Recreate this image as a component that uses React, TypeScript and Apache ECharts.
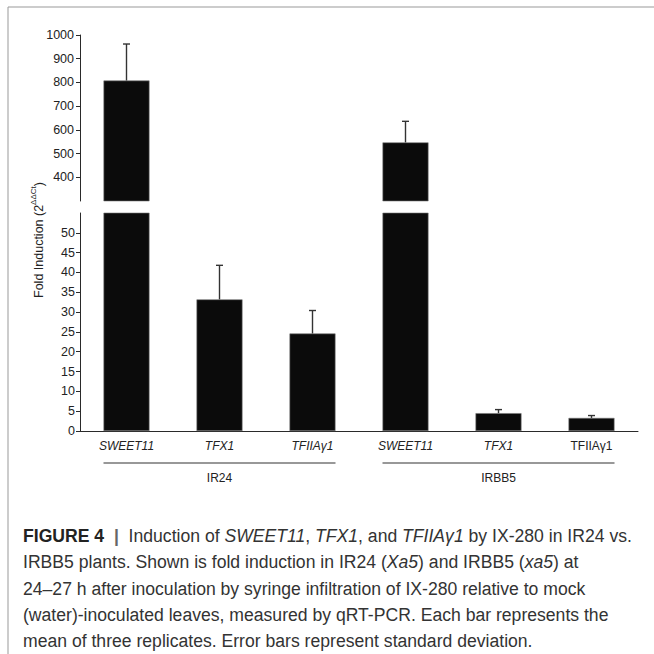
import React, { useEffect, useRef } from "react";
import * as echarts from "echarts";

const categories = ["SWEET11", "TFX1", "TFIIAγ1", "SWEET11", "TFX1", "TFIIAγ1"];
const italicFlags = [true, true, true, true, true, false];
const groupNames = ["IR24", "IRBB5"];
const groupMembers = [[0, 1, 2], [3, 4, 5]];
const means = [808, 33.2, 24.6, 547, 4.5, 3.3];
const sds = [154, 8.6, 5.8, 89, 0.9, 0.6];
const upperRange = [300, 1000];
const lowerRange = [0, 55];
const upperTicks = [400, 500, 600, 700, 800, 900, 1000];
const lowerTicks = [0, 5, 10, 15, 20, 25, 30, 35, 40, 45, 50];

const captionLines = [
  "{b|FIGURE 4  }{p||}{r|  Induction of }{i|SWEET11}{r|, }{i|TFX1}{r|, and }{i|TFIIAγ1}{r| by IX-280 in IR24 vs.}",
  "{r|IRBB5 plants. Shown is fold induction in IR24 (}{i|Xa5}{r|) and IRBB5 (}{i|xa5}{r|) at}",
  "{r|24–27 h after inoculation by syringe infiltration of IX-280 relative to mock}",
  "{r|(water)-inoculated leaves, measured by qRT-PCR. Each bar represents the}",
  "{r|mean of three replicates. Error bars represent standard deviation.}",
];

const FONT = "'Liberation Sans', Arial, Helvetica, sans-serif";
const CAPFONT = "'Liberation Sans', Arial, sans-serif";
const CAPSIZE = 17.6;
const BAR_W = 46;
const AXIS_COLOR = "#2a2a2a";

export default function App() {
  const ref = useRef<HTMLDivElement>(null);
  useEffect(() => {
    if (!ref.current) return;
    const chart = echarts.init(ref.current, null, { renderer: "svg" });

    const upperBars = means.map((v) => (v >= upperRange[0] ? v : "-"));
    const upperErr = means
      .map((v, i) => [i, v, v + sds[i]])
      .filter((d) => d[1] >= upperRange[0]);
    const lowerErr = means
      .map((v, i) => [i, v, v + sds[i]])
      .filter((d) => d[1] < lowerRange[1]);

    const errRender = (params: any, api: any) => {
      const i = api.value(0);
      const lo = api.coord([i, api.value(1)]);
      const hi = api.coord([i, api.value(2)]);
      const cap = 3.5;
      return {
        type: "group",
        children: [
          {
            type: "line",
            shape: { x1: lo[0], y1: lo[1], x2: hi[0], y2: hi[1] },
            style: { stroke: "#333", lineWidth: 1.4 },
          },
          {
            type: "line",
            shape: { x1: hi[0] - cap, y1: hi[1], x2: hi[0] + cap, y2: hi[1] },
            style: { stroke: "#333", lineWidth: 1.4 },
          },
        ],
      };
    };

    const yAxisCommon = {
      type: "value",
      splitLine: { show: false },
      axisLine: { show: true, lineStyle: { color: AXIS_COLOR, width: 1 } },
      axisTick: { show: true, length: 4, lineStyle: { color: AXIS_COLOR } },
      axisLabel: {
        color: "#222",
        fontSize: 12.5,
        fontFamily: FONT,
        margin: 6,
        formatter: (v: number) => String(v),
      },
    };

    const option: any = {
      animation: false,
      backgroundColor: "#fff",
      grid: [
        { left: 80, right: 16, top: 35, height: 166 },
        { left: 80, right: 16, top: 213, height: 218 },
      ],
      xAxis: [
        {
          type: "category",
          gridIndex: 0,
          data: categories,
          show: false,
        },
        {
          type: "category",
          gridIndex: 1,
          data: categories,
          axisLine: { show: true, lineStyle: { color: AXIS_COLOR } },
          axisTick: { show: false },
          axisLabel: {
            margin: 9,
            fontSize: 12,
            fontFamily: FONT,
            color: "#222",
            formatter: (v: string, idx: number) =>
              italicFlags[idx] ? "{i|" + v + "}" : "{n|" + v + "}",
            rich: {
              i: { fontStyle: "italic", fontSize: 12, fontFamily: FONT, color: "#222" },
              n: { fontSize: 12, fontFamily: FONT, color: "#222" },
            },
          },
        },
      ],
      yAxis: [
        {
          ...yAxisCommon,
          gridIndex: 0,
          min: upperRange[0],
          max: upperRange[1],
          interval: 100,
          axisTick: { ...yAxisCommon.axisTick, customValues: upperTicks },
          axisLabel: { ...yAxisCommon.axisLabel, customValues: upperTicks },
        },
        {
          ...yAxisCommon,
          gridIndex: 1,
          min: lowerRange[0],
          max: lowerRange[1],
          interval: 5,
          axisTick: { ...yAxisCommon.axisTick, customValues: lowerTicks },
          axisLabel: { ...yAxisCommon.axisLabel, margin: 5, customValues: lowerTicks },
        },
      ],
      series: [
        {
          type: "bar",
          xAxisIndex: 0,
          yAxisIndex: 0,
          data: upperBars,
          barWidth: BAR_W,
          itemStyle: { color: "#0b0b0b", borderColor: "#777", borderWidth: 0.6 },
        },
        {
          type: "bar",
          xAxisIndex: 1,
          yAxisIndex: 1,
          data: means,
          barWidth: BAR_W,
          clip: true,
          itemStyle: { color: "#0b0b0b", borderColor: "#777", borderWidth: 0.6 },
        },
        {
          type: "custom",
          xAxisIndex: 0,
          yAxisIndex: 0,
          data: upperErr,
          renderItem: errRender,
          z: 3,
        },
        {
          type: "custom",
          xAxisIndex: 1,
          yAxisIndex: 1,
          data: lowerErr,
          renderItem: errRender,
          z: 3,
        },
      ],
    };
    chart.setOption(option);

    const graphics: any[] = [
      {
        type: "line",
        shape: { x1: 8, y1: 7, x2: 654, y2: 7 },
        style: { stroke: "#999", lineWidth: 1 },
      },
      {
        type: "line",
        shape: { x1: 8, y1: 7, x2: 8, y2: 654 },
        style: { stroke: "#999", lineWidth: 1 },
      },
      {
        type: "text",
        x: 37,
        y: 240,
        rotation: Math.PI / 2,
        style: {
          text: "{a|Fold Induction (2}{s|ΔΔCt}{a|)}",
          align: "center",
          verticalAlign: "middle",
          rich: {
            a: { fontSize: 12.5, fontFamily: FONT, fill: "#222", lineHeight: 16, verticalAlign: "bottom" },
            s: { fontSize: 8, fontFamily: FONT, fill: "#222", lineHeight: 16, verticalAlign: "top" },
          },
        },
      },
    ];

    groupMembers.forEach((members, gi) => {
      const first = chart.convertToPixel({ xAxisIndex: 1 }, members[0]) as number;
      const last = chart.convertToPixel({ xAxisIndex: 1 }, members[members.length - 1]) as number;
      const x1 = first - BAR_W / 2;
      const x2 = last + BAR_W / 2;
      graphics.push({
        type: "line",
        shape: { x1, y1: 463, x2, y2: 463 },
        style: { stroke: "#333", lineWidth: 1.2 },
      });
      graphics.push({
        type: "text",
        x: (x1 + x2) / 2,
        y: 478,
        style: {
          text: groupNames[gi],
          align: "center",
          verticalAlign: "middle",
          fontSize: 12,
          fontFamily: FONT,
          fill: "#222",
        },
      });
    });

    captionLines.forEach((line, li) => {
      graphics.push({
        type: "text",
        x: 23,
        y: 536 + li * 26.3,
        style: {
          text: line,
          align: "left",
          verticalAlign: "middle",
          rich: {
            b: { fontSize: CAPSIZE, fontWeight: "bold", fontFamily: CAPFONT, fill: "#222" },
            p: { fontSize: CAPSIZE, fontWeight: "bold", fontFamily: CAPFONT, fill: "#666" },
            r: { fontSize: CAPSIZE, fontFamily: CAPFONT, fill: "#333" },
            i: { fontSize: CAPSIZE, fontStyle: "italic", fontFamily: CAPFONT, fill: "#333" },
          },
        },
      });
    });

    chart.setOption({ graphic: graphics });

    return () => chart.dispose();
  }, []);

  return (
    <div
      ref={ref}
      style={{ position: "fixed", left: 0, top: 0, width: 654, height: 654 }}
    />
  );
}
